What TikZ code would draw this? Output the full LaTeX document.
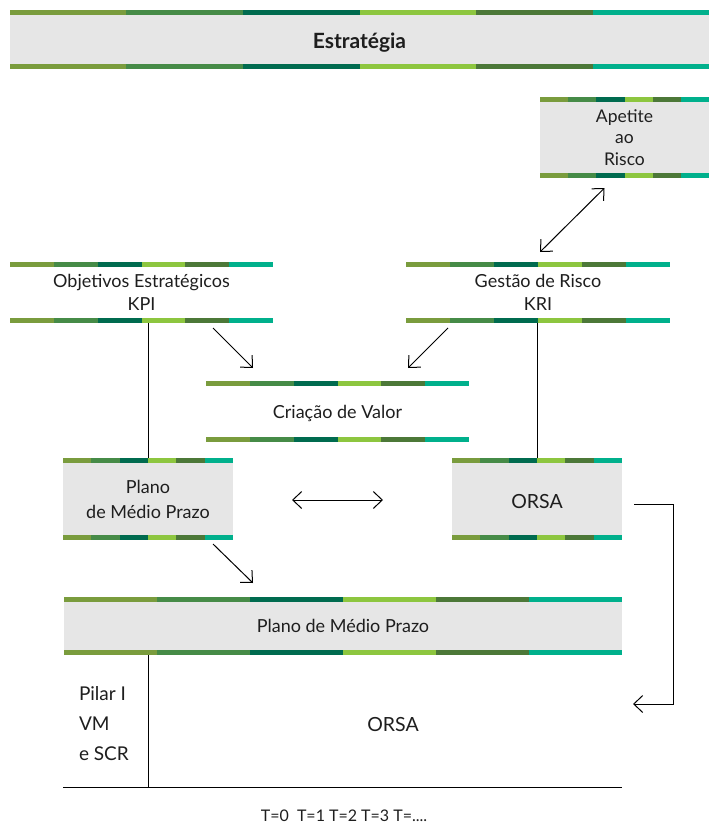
\documentclass[tikz,border=0pt]{standalone}
\usepackage{fontspec}
\setmainfont{Lato}
\usetikzlibrary{calc,arrows.meta}
\definecolor{gA}{HTML}{7A9C3D}
\definecolor{gB}{HTML}{468B47}
\definecolor{gC}{HTML}{006B4F}
\definecolor{gD}{HTML}{8DC63F}
\definecolor{gE}{HTML}{4C7838}
\definecolor{gF}{HTML}{00B08C}
\definecolor{boxgrey}{HTML}{E6E6E6}
\definecolor{txt}{HTML}{1E1E1E}
\newcommand\stripes[1]{%
  \foreach \c [count=\i from 0] in {gA,gB,gC,gD,gE,gF}{%
    \pgfmathsetmacro\j{\i+1}%
    \fill[\c] ($(#1.north west)!{\i/6}!(#1.north east)$) rectangle ($(#1.north west)!{\j/6}!(#1.north east)+(0,5)$);
    \fill[\c] ($(#1.south west)!{\i/6}!(#1.south east)$) rectangle ($(#1.south west)!{\j/6}!(#1.south east)+(0,-5)$);
  }}
\newcommand\sinktext[2]{\raisebox{-#1pt}[\height][\depth]{#2}}
\tikzset{
  gbox/.style={rectangle, fill=boxgrey, inner sep=0pt, outer sep=0pt, align=center, text=txt},
  wbox/.style={rectangle, inner sep=0pt, outer sep=0pt, align=center, text=txt},
  lbl/.style={inner sep=0pt, outer sep=0pt, text=txt},
  normal/.style={font=\fontsize{18}{23}\selectfont},
  conn/.style={line width=1pt, draw=black},
  arr/.style={conn, -{Straight Barb[length=9pt,width=17pt,line width=1pt]}},
  darr/.style={conn, {Straight Barb[length=9pt,width=17pt,line width=1pt]}-{Straight Barb[length=9pt,width=17pt,line width=1pt]}},
}
\begin{document}
\begin{tikzpicture}[x=1pt,y=-1pt]
\useasboundingbox (0,0) rectangle (709,840);
% boxes
\node[gbox, minimum width=699, minimum height=59, font=\bfseries\fontsize{21}{24}\selectfont] (strat) at (359.5,39.5) {\sinktext{3}{Estratégia}};
\node[gbox, minimum width=169, minimum height=81, font=\fontsize{17.5}{21.5}\selectfont] (apet) at (624.5,137.5) {Apetite\\ao\\Risco};
\node[wbox, normal, minimum width=263, minimum height=61] (obj) at (141.5,292.5) {Objetivos Estratégicos\\KPI};
\node[wbox, normal, minimum width=264, minimum height=61] (gest) at (538,292.5) {Gestão de Risco\\KRI};
\node[wbox, normal, minimum width=263, minimum height=61] (criacao) at (337.5,411.5) {\sinktext{2}{Criação de Valor}};
\node[gbox, minimum width=170, minimum height=82, font=\fontsize{18}{25}\selectfont] (plano) at (148,499) {Plano\\de Médio Prazo};
\node[gbox, minimum width=170, minimum height=82, font=\fontsize{19.5}{25}\selectfont] (orsa) at (537,499) {\sinktext{3}{ORSA}};
\node[gbox, normal, minimum width=558, minimum height=58] (big) at (343,626) {Plano de Médio Prazo};
\foreach \n in {strat,apet,obj,gest,criacao,plano,orsa,big} {\stripes{\n}}
% bottom area
\coordinate (axL) at (63,787);
\coordinate (axR) at (622,787);
\node[lbl, anchor=west, align=left, font=\fontsize{19}{30}\selectfont] (pilar) at (79,724) {Pilar I\\VM\\e SCR};
\node[lbl, font=\fontsize{19.5}{24}\selectfont] (orsaB) at (393,725) {ORSA};
\node[lbl, font=\fontsize{16}{20}\selectfont] (tlab) at (344,816) {T=0\ \ T=1 T=2 T=3 T=....};
\draw[conn] (axL) -- (axR);
\draw[conn] (big.south -| plano.south) -- (axL -| plano.south);
% connectors
\draw[conn] (plano.north) -- (plano.north |- obj.south);
\draw[conn] (orsa.north) -- (orsa.north |- gest.south);
\coordinate (a1) at ($(apet.south)+(-20,10)$);
\coordinate (a2) at ($(gest.north)+(2,-10)$);
\draw[darr] (a1) -- (a2);
\coordinate (b1) at ($(obj.south)+(71.5,5)$);
\coordinate (b2) at ($(criacao.north west)+(47,-13)$);
\draw[arr] (b1) -- (b2);
\coordinate (c1) at ($(gest.south)+(-90,5)$);
\coordinate (c2) at ($(criacao.north east)+(-61,-13)$);
\draw[arr] (c1) -- (c2);
\coordinate (d1) at ($(plano.east)+(59,1)$);
\coordinate (d2) at ($(orsa.west)+(-69,1)$);
\draw[darr] (d1) -- (d2);
\coordinate (f1) at ($(plano.south east)+(-20,4)$);
\coordinate (f2) at ($(big.north west)+(189,-14)$);
\draw[arr] (f1) -- (f2);
\coordinate (e1) at ($(orsa.east)+(12,5)$);
\coordinate (e2) at (633,704);
\draw[arr] (e1) -| ($(e2)+(40,0)$) -- (e2);
\end{tikzpicture}
\end{document}
